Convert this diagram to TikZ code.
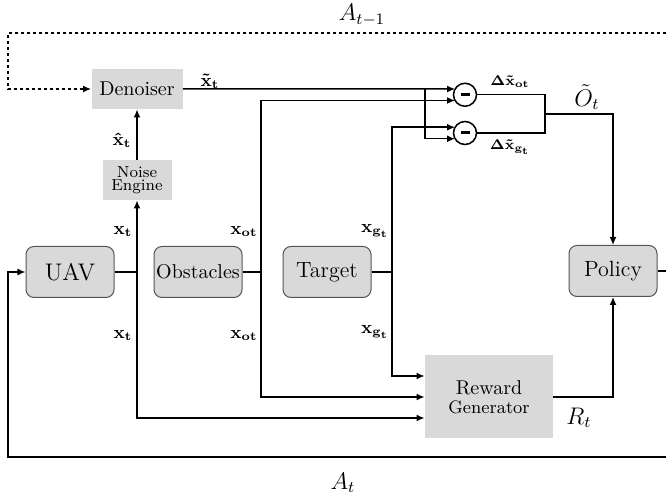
\documentclass[tikz,border=0pt]{standalone}
\usepackage{amsmath}
\usepackage{bm}
\usetikzlibrary{arrows.meta}
\definecolor{boxgray}{RGB}{217,217,217}
\definecolor{rimgray}{RGB}{85,85,85}

\begin{document}
\begin{tikzpicture}[x=0.5pt, y=-0.5pt,
  flat box/.style = {shape = rectangle, fill = boxgray, inner sep = 0pt, align = center},
  round box/.style = {flat box, rounded corners = 4pt, draw = rimgray, line width = 0.5pt, minimum width = 44pt, minimum height = 25.5pt, font = \fontsize{11}{13}\selectfont},
  minus node/.style = {circle, draw, line width = 0.75pt, minimum size = 11.5pt, inner sep = 0pt, outer sep = 0pt},
  sig label/.style = {inner sep = 0pt, font = \small},
  black edge/.style = {line width = 0.75pt, -{Latex[length=4pt,width=3.5pt]}},
  plain edge/.style = {line width = 0.75pt},
  loop edge/.style = {black edge, dash pattern = on 1.6pt off 1.4pt}]
\useasboundingbox (0,0) rectangle (666,497);
\node[flat box, minimum width=45.5pt, minimum height=20pt] (den) at (137,89) {Denoiser};
\node[flat box, minimum width=34.5pt, minimum height=20pt, font=\fontsize{8}{6.7}\selectfont] (noise) at (137,180) {Noise\\Engine};
\node[round box, font=\large] (uav) at (70,272) {UAV};
\node[round box, font=\normalsize] (obs) at (198,272) {Obstacles};
\node[round box] (tgt) at (327,272) {Target};
\node[round box] (pol) at (613,271) {Policy};
\node[flat box, minimum width=64pt, minimum height=41.5pt, font=\fontsize{10}{9.7}\selectfont] (rew) at (489,397) {Reward\\\small Generator};
\node[minus node] (c1) at (465,94.75) {\rule{4.5pt}{1.5pt}};
\node[minus node] (c2) at (465,133) {\rule{4.5pt}{1.5pt}};
% junctions and free ends
\coordinate (ju) at (137,272);
\coordinate (jo) at (261,272);
\coordinate (jt) at (392,272);
\coordinate (jx) at (425,89);
\coordinate (jd) at (545,114);
\coordinate (dL) at (8,33);  \coordinate (dR) at (666,33);
\coordinate (bL) at (8,457); \coordinate (bR) at (666,457);
\coordinate (pR) at (666,271);
% signal labels
\node[sig label] (xtil) at (210,81) {$\mathbf{\tilde{x}_t}$};
\node[sig label] (xhat) at (122,140) {$\mathbf{\hat{x}_t}$};
\foreach \y/\n in {232/a,336/b}
  { \node[sig label] (xt\n) at (123,\y) {$\mathbf{x_t}$};
    \node[sig label] (xo\n) at (244,\y) {$\mathbf{x_{ot}}$}; }
\foreach \y/\n in {231/a,332/b}
  { \node[sig label] (xg\n) at (375,\y) {$\mathbf{x_{g_t}}$}; }
\node[sig label, font=\scriptsize] (dxo) at (510,82) {$\mathbf{\Delta\tilde{x}_{ot}}$};
\node[sig label, font=\scriptsize] (dxg) at (510,147) {$\mathbf{\Delta\tilde{x}_{g_t}}$};
\node[sig label, font=\large] (obst) at (587,97) {$\tilde{O}_t$};
\node[sig label, font=\large] (rt) at (579,418) {$R_t$};
\node[sig label, font=\large] (atm) at (362,15) {$A_{t-1}$};
\node[sig label, font=\large] (at) at (343,483) {$A_t$};
% connectors
\draw[plain edge] (uav.east) -- (ju);
\draw[black edge] (ju) -- (noise.south);
\draw[black edge] (ju) |- ([yshift=-10.5pt]rew.west);
\draw[black edge] (noise.north) -- (den.south);
\draw[plain edge] (obs.east) -- (jo);
\draw[black edge] (jo) |- (c1.210);
\draw[black edge] (jo) |- (rew.west);
\draw[plain edge] (tgt.east) -- (jt);
\draw[black edge] (jt) |- (c2.150);
\draw[black edge] (jt) |- ([yshift=10.5pt]rew.west);
\draw[black edge] (den.east) -- (c1.150);
\draw[black edge] (jx) |- (c2.210);
\draw[plain edge] (c1.east) -| (jd);
\draw[plain edge] (c2.east) -| (jd);
\draw[black edge] (jd) -| (pol.north);
\draw[black edge] (rew.east) -| (pol.south);
\draw[plain edge] (pol.east) -- (pR);
\draw[black edge] (bR) -- (bL) |- (uav.west);
\draw[loop edge] (dR) -- (dL) |- (den.west);
\end{tikzpicture}
\end{document}
